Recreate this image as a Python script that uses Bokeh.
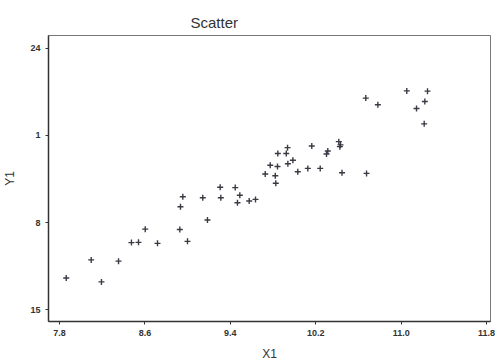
from bokeh.plotting import figure
from bokeh.embed import file_html
from bokeh.resources import INLINE
from bokeh.models import Range1d, FixedTicker, Title

x1 = [7.863, 8.097, 8.193, 8.353, 8.474, 8.540, 8.603, 8.718, 8.927, 8.999,
      8.933, 8.955, 9.142, 9.186, 9.305, 9.311, 9.446, 9.489, 9.467, 9.577,
      9.636, 9.727, 9.774, 9.842, 9.821, 9.826, 9.845, 9.924, 9.936, 9.939,
      9.986, 10.032, 10.126, 10.163, 10.242, 10.301, 10.313, 10.416, 10.432, 10.426,
      10.446, 10.676, 10.669, 10.782, 11.053, 11.247, 11.222, 11.144, 11.216]
y1 = [2.55, 4.00, 2.23, 3.90, 5.39, 5.41, 6.47, 5.33, 6.44, 5.49,
      8.27, 9.07, 8.99, 7.21, 9.84, 8.99, 9.81, 9.20, 8.59, 8.73,
      8.86, 10.90, 11.61, 11.51, 10.76, 10.16, 12.55, 12.55, 13.02, 11.72,
      12.01, 11.08, 11.35, 13.15, 11.35, 12.51, 12.75, 13.50, 13.24, 13.10,
      11.00, 10.95, 17.00, 16.47, 17.58, 17.56, 16.73, 16.17, 14.93]

x_ticks = [7.8, 8.6, 9.4, 10.2, 11.0, 11.8]
x_tick_labels = ["7.8", "8.6", "9.4", "10.2", "11.0", "11.8"]
y_ticks = [0, 7, 14, 21]
y_tick_labels = ["15", "8", "1", "24"]

p = figure(width=495, height=363, output_backend="svg", toolbar_location=None,
           x_range=Range1d(7.697, 11.837), y_range=Range1d(-0.95, 22.03),
           min_border_left=48, min_border_right=5, min_border_top=35, min_border_bottom=39)
p.title = Title(text="Scatter", align="left", offset=142, text_font="Liberation Sans",
                text_font_size="15px", text_font_style="normal", text_color="#333333",
                standoff=9)
p.grid.visible = False
p.outline_line_color = "#555555"
p.outline_line_alpha = 0.8
p.background_fill_color = "white"
p.border_fill_color = "white"

p.scatter(x1, y1, marker="cross", size=6, line_width=1.4, color="#3a3a44")

p.xaxis.ticker = FixedTicker(ticks=x_ticks)
p.xaxis.major_label_overrides = {t: l for t, l in zip(x_ticks, x_tick_labels)}
p.yaxis.ticker = FixedTicker(ticks=y_ticks)
p.yaxis.major_label_overrides = {t: l for t, l in zip(y_ticks, y_tick_labels)}
p.xaxis.axis_label = "X1"
p.yaxis.axis_label = "Y1"
for ax in (p.xaxis, p.yaxis):
    ax.axis_line_color = "#333333"
    ax.axis_line_width = 1.5
    ax.major_tick_line_color = "#333333"
    ax.major_tick_in = 0
    ax.major_tick_out = 3
    ax.minor_tick_line_color = None
    ax.major_label_text_font = "Liberation Sans"
    ax.major_label_text_font_size = "9px"
    ax.major_label_text_font_style = "bold"
    ax.major_label_text_color = "#333333"
    ax.axis_label_text_font = "Liberation Sans"
    ax.axis_label_text_font_size = "12px"
    ax.axis_label_text_font_style = "normal"
    ax.axis_label_text_color = "#333333"
p.yaxis.major_label_orientation = "horizontal"
p.yaxis.axis_label_standoff = 10
p.xaxis.axis_label_standoff = 8

open("out.html", "w").write(file_html(p, INLINE))
